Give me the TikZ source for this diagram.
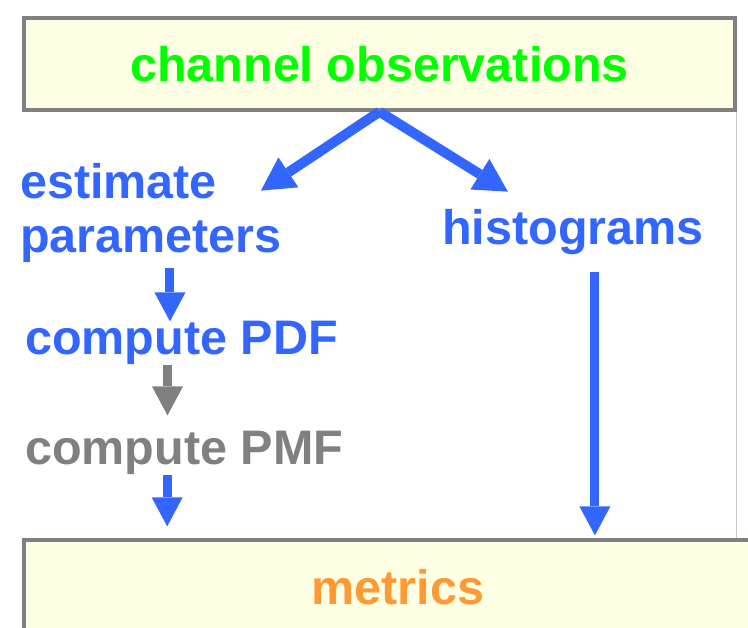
\documentclass[tikz,border=0pt]{standalone}
\usepackage{fontspec}
\setmainfont{Liberation Sans}
\usetikzlibrary{arrows.meta}

\definecolor{flowblue}{RGB}{51,102,255}
\definecolor{boxgray}{RGB}{128,128,128}
\definecolor{boxfill}{RGB}{255,255,228}
\definecolor{obsgreen}{RGB}{0,255,0}
\definecolor{metricorange}{RGB}{255,153,51}

\begin{document}
\begin{tikzpicture}[x=1pt, y=-1pt,
        every node/.append style={font=\fontsize{48.5}{54}\selectfont\bfseries, inner sep=0pt},
        box/.style={draw=boxgray, line width=3.5pt, fill=boxfill},
        txt/.style={anchor=base west, align=left, text=flowblue},
        flow/.style={draw=flowblue, line width=9pt, -{Triangle[length=29pt,width=31pt,line width=0pt]}},
        fork/.style={draw=flowblue, line width=10pt, -{Triangle[length=33pt,width=36pt,line width=0pt]}}
    ]
        \clip (0,0) rectangle (748,628);
        \node[box, minimum width=711pt, minimum height=92pt, text=obsgreen] (obs) at (379.5,64) {channel observations};
        \node[box, minimum width=748pt, minimum height=95pt, text=metricorange] (metrics) at (398,587.6) {metrics};
        \node[txt] (est)  at (20,253)  {estimate\\parameters};
        \node[txt] (hist) at (442,245) {histograms};
        \node[txt] (pdf)  at (25,355)  {compute PDF};
        \node[txt, text=boxgray] (pmf) at (25,465) {compute PMF};
        \draw[boxgray!45, line width=1pt] (obs.south east) -- (obs.south east |- metrics.north);
        \draw[fork] (obs.south) -- ([xshift=-21pt,yshift=-27pt]est.north east);
        \draw[fork] (obs.south) -- ([xshift=-65pt,yshift=18pt]hist.north);
        \draw[flow, shorten <=5pt] ([xshift=19pt]est.south) -- ([xshift=19pt]est.south |- pdf.north);
        \draw[flow, draw=boxgray, shorten >=16pt] ([xshift=-14pt]pdf.south) -- ([xshift=-14pt]pdf.south |- pmf.north);
        \draw[flow, shorten >=12pt] ([xshift=-17pt]pmf.south) -- ([xshift=-17pt]pmf.south |- metrics.north);
        \draw[flow, shorten <=17pt, shorten >=3pt] ([xshift=22pt]hist.south) -- ([xshift=22pt]hist.south |- metrics.north);
    \end{tikzpicture}
\end{document}
